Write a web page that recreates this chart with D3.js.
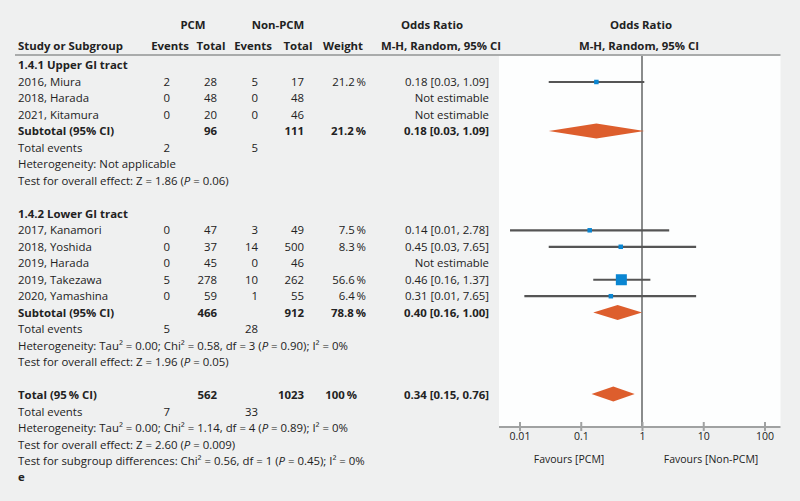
<!DOCTYPE html>
<html>
<head>
<meta charset="utf-8">
<script src="https://cdn.jsdelivr.net/npm/d3@7/dist/d3.min.js"></script>
<style>
  html, body { margin: 0; padding: 0; background: #eff0f0; }
  svg { display: block; }
  text { font-family: "Open Sans", "Noto Sans", sans-serif; font-size: 11.4px; fill: #222; }
  text.small { font-size: 10.5px; }
</style>
</head>
<body>
<svg id="chart" width="800" height="501"></svg>
<script>
// ---------- data ----------
const studyLabels = ["2016, Miura", "2018, Harada", "2021, Kitamura",
                     "2017, Kanamori", "2018, Yoshida", "2019, Harada", "2019, Takezawa", "2020, Yamashina"];
const studyGroup  = [1, 1, 1, 2, 2, 2, 2, 2];
const pcmEvents   = [2, 0, 0, 0, 0, 0, 5, 0];
const pcmTotals   = [28, 48, 20, 47, 37, 45, 278, 59];
const nonEvents   = [5, 0, 0, 3, 14, 0, 10, 1];
const nonTotals   = [17, 48, 46, 49, 500, 46, 262, 55];
const weights     = [21.2, null, null, 7.5, 8.3, null, 56.6, 6.4];
const orValues    = [0.18, null, null, 0.14, 0.45, null, 0.46, 0.31];
const ciLow       = [0.03, null, null, 0.007, 0.03, null, 0.16, 0.012];
const ciHigh      = [1.09, null, null, 2.78, 7.65, null, 1.37, 7.65];

const groupTitles   = ["1.4.1 Upper GI tract", "1.4.2 Lower GI tract"];
const subPcmTotal   = [96, 466];
const subNonTotal   = [111, 912];
const subWeight     = [21.2, 78.8];
const subOR         = [0.18, 0.40];
const subLow        = [0.03, 0.16];
const subHigh       = [1.09, 1.00];
const subPcmEvents  = [2, 5];
const subNonEvents  = [5, 28];
const subHetero     = [
  [["Heterogeneity: Not applicable"]],
  [["Heterogeneity: Tau² = 0.00; Chi² = 0.58, df = 3 ("], ["P", true], [" = 0.90); I² = 0%"]]
];
const subEffect     = [
  [["Test for overall effect: Z = 1.86 ("], ["P", true], [" = 0.06)"]],
  [["Test for overall effect: Z = 1.96 ("], ["P", true], [" = 0.05)"]]
];

const totalPcm = 562, totalNon = 1023, totalWeight = 100;
const totalOR = 0.34, totalLow = 0.15, totalHigh = 0.76;
const totalPcmEvents = 7, totalNonEvents = 33;
const totalHetero = [["Heterogeneity: Tau² = 0.00; Chi² = 1.14, df = 4 ("], ["P", true], [" = 0.89); I² = 0%"]];
const totalEffect = [["Test for overall effect: Z = 2.60 ("], ["P", true], [" = 0.009)"]];
const subgroupDiff = [["Test for subgroup differences: Chi² = 0.56, df = 1 ("], ["P", true], [" = 0.45); I² = 0%"]];

const tickValues = [0.01, 0.1, 1, 10, 100];
const tickLabels = ["0.01", "0.1", "1", "10", "100"];
const favourLeft = "Favours [PCM]", favourRight = "Favours [Non-PCM]";

// ---------- layout ----------
const svg = d3.select("#chart");
const rowY = d3.scaleLinear().domain([0, 25]).range([65.5, 477.5]);
const x = d3.scaleLog().domain([0.01, 100]).range([519.5, 764.5]);
const panel = {x0: 499, x1: 780.5, y0: 56, y1: 427};
const col = {label: 18, pcmE: 170, pcmT: 217, nonE: 258, nonT: 304, weight: 366, or: 489};

const fmt2 = d3.format(".2f");
const fmtW = d => (d === 100 ? "100" : d3.format(".1f")(d)) + "\u2009%";
const orText = (o, l, h) => `${fmt2(o)} [${fmt2(l)}, ${fmt2(h)}]`;

// panel
svg.append("rect").attr("x", panel.x0).attr("y", panel.y0)
  .attr("width", panel.x1 - panel.x0).attr("height", panel.y1 - panel.y0)
  .attr("fill", "#fdfefe");

// header rule
svg.append("line").attr("x1", 15).attr("x2", panel.x1).attr("y1", 55).attr("y2", 55)
  .attr("stroke", "#a9abab").attr("stroke-width", 2);

const lineG = svg.append("g");
const g = svg.append("g");
function txt(xp, yp, s, anchor, bold) {
  return g.append("text").attr("x", xp).attr("y", yp).attr("dy", "0.35em")
    .attr("text-anchor", anchor || "start")
    .attr("font-weight", bold ? "bold" : null)
    .text(s);
}
function richTxt(xp, yp, parts) {
  const t = g.append("text").attr("x", xp).attr("y", yp).attr("dy", "0.35em");
  parts.forEach(p => {
    t.append("tspan").attr("font-style", p[1] ? "italic" : null).text(p[0]);
  });
}

// null line
lineG.append("line").attr("x1", x(1)).attr("x2", x(1)).attr("y1", panel.y0).attr("y2", panel.y1)
  .attr("stroke", "#8a8c8c").attr("stroke-width", 2);
const markG = svg.append("g");

// headers
const h1 = 25.5, h2 = 46.5;
txt(193, h1, "PCM", "middle", true);
txt(278, h1, "Non-PCM", "middle", true);
txt(432, h1, "Odds Ratio", "middle", true);
txt(641, h1, "Odds Ratio", "middle", true);
txt(col.label, h2, "Study or Subgroup", "start", true);
txt(170, h2, "Events", "middle", true);
txt(211, h2, "Total", "middle", true);
txt(253, h2, "Events", "middle", true);
txt(298, h2, "Total", "middle", true);
txt(343, h2, "Weight", "middle", true);
txt(441, h2, "M-H, Random, 95% CI", "middle", true);
txt(639, h2, "M-H, Random, 95% CI", "middle", true);

function diamond(y, o, l, h) {
  const hh = 7.5;
  markG.append("path")
    .attr("d", `M${x(l)},${y}L${x(o)},${y - hh}L${x(h)},${y}L${x(o)},${y + hh}Z`)
    .attr("fill", "#dd5e2d");
}

// build rows
const sq = d3.scaleLinear().domain([0, 56.6]).range([0, 11]);
let r = 0;
[1, 2].forEach((grp, gi) => {
  txt(col.label, rowY(r), groupTitles[gi], "start", true); r++;
  studyLabels.forEach((lab, i) => {
    if (studyGroup[i] !== grp) return;
    const y = rowY(r);
    txt(col.label, y, lab);
    txt(col.pcmE, y, pcmEvents[i], "end");
    txt(col.pcmT, y, pcmTotals[i], "end");
    txt(col.nonE, y, nonEvents[i], "end");
    txt(col.nonT, y, nonTotals[i], "end");
    if (weights[i] != null) {
      txt(col.weight, y, fmtW(weights[i]), "end");
      txt(col.or, y, orText(orValues[i], ciLow[i], ciHigh[i]), "end");
      markG.append("line").attr("x1", x(ciLow[i])).attr("x2", x(ciHigh[i]))
        .attr("y1", y).attr("y2", y).attr("stroke", "#555").attr("stroke-width", 2.2);
      const s = Math.max(4.5, sq(weights[i]));
      markG.append("rect").attr("x", x(orValues[i]) - s / 2).attr("y", y - s / 2)
        .attr("width", s).attr("height", s).attr("fill", "#0a86d2");
    } else {
      txt(col.or, y, "Not estimable", "end");
    }
    r++;
  });
  const ys = rowY(r);
  txt(col.label, ys, "Subtotal (95% CI)", "start", true);
  txt(col.pcmT, ys, subPcmTotal[gi], "end", true);
  txt(col.nonT, ys, subNonTotal[gi], "end", true);
  txt(col.weight, ys, fmtW(subWeight[gi]), "end", true);
  txt(col.or, ys, orText(subOR[gi], subLow[gi], subHigh[gi]), "end", true);
  diamond(ys - 0.3, subOR[gi], subLow[gi], subHigh[gi]);
  r++;
  txt(col.label, rowY(r), "Total events");
  txt(col.pcmE, rowY(r), subPcmEvents[gi], "end");
  txt(col.nonE, rowY(r), subNonEvents[gi], "end");
  r++;
  richTxt(col.label, rowY(r), subHetero[gi]); r++;
  richTxt(col.label, rowY(r), subEffect[gi]); r++;
  r++; // blank
});

// total
const yt = rowY(r);
txt(col.label, yt, "Total (95\u2009% CI)", "start", true);
txt(col.pcmT, yt, totalPcm, "end", true);
txt(col.nonT, yt, totalNon, "end", true);
txt(col.weight - 9, yt, fmtW(totalWeight), "end", true);
txt(col.or, yt, orText(totalOR, totalLow, totalHigh), "end", true);
diamond(yt - 1, totalOR, totalLow, totalHigh);
r++;
txt(col.label, rowY(r), "Total events");
txt(col.pcmE, rowY(r), totalPcmEvents, "end");
txt(col.nonE, rowY(r), totalNonEvents, "end");
r++;
richTxt(col.label, rowY(r), totalHetero); r++;
richTxt(col.label, rowY(r), totalEffect); r++;
richTxt(col.label, rowY(r), subgroupDiff); r++;
txt(col.label, rowY(r), "e", "start", true);

// axis
const axisG = svg.append("g").attr("transform", `translate(0,${panel.y1})`);
axisG.call(d3.axisBottom(x).tickValues(tickValues)
  .tickFormat((d, i) => tickLabels[i]).tickSizeOuter(0).tickSizeInner(4).tickPadding(6));
axisG.select(".domain").remove();
axisG.insert("line", ":first-child").attr("x1", panel.x0).attr("x2", panel.x1)
  .attr("stroke", "#a0a2a2").attr("stroke-width", 2);
axisG.selectAll(".tick line").attr("y1", -5).attr("y2", 4)
  .attr("stroke", "#a0a2a2").attr("stroke-width", 2);
axisG.selectAll(".tick text").attr("font-family", null).attr("font-size", null)
  .attr("class", "small").attr("fill", "#222").attr("y", 13).attr("dy", "0");
axisG.attr("font-family", null).attr("font-size", null);

txt(569, 459, favourLeft, "middle").attr("class", "small");
txt(711, 459, favourRight, "middle").attr("class", "small");
</script>
</body>
</html>
